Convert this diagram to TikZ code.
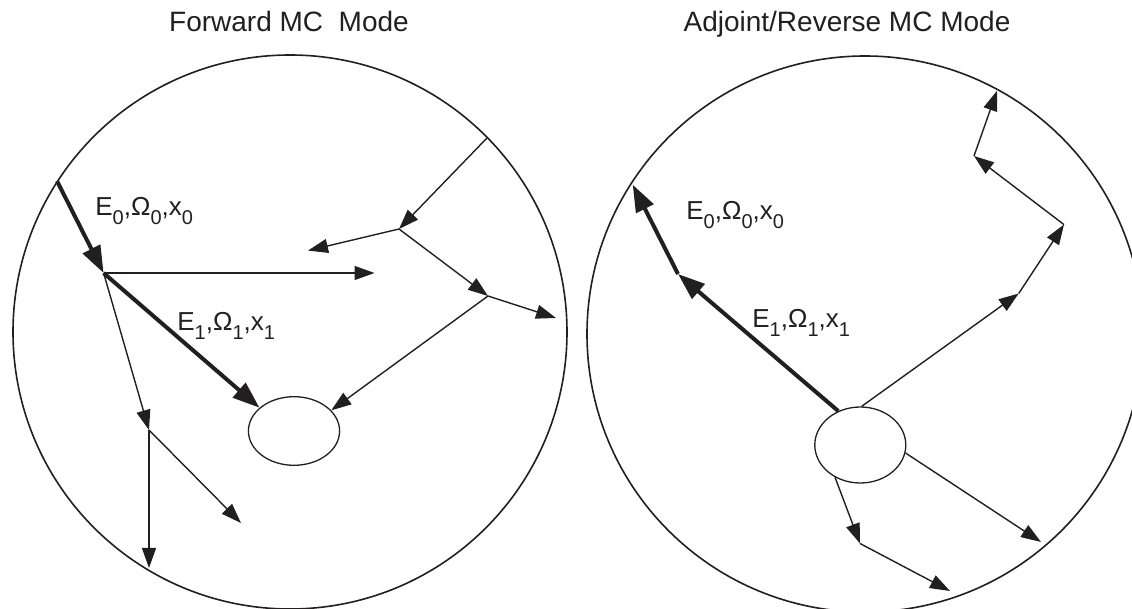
\documentclass[tikz,border=0pt]{standalone}
\usepackage{fontspec}
\setmainfont{Liberation Sans}
\usetikzlibrary{arrows.meta,shapes.geometric}
\definecolor{ink}{RGB}{35,31,32}
\newcommand\sbs[1]{\raisebox{-4.2pt}{\fontsize{10}{11}\selectfont #1}}
\newcommand\lblE[1]{E\sbs{#1},Ω\sbs{#1},x\sbs{#1}}
\begin{document}
\begin{tikzpicture}[x=0.5pt,y=-0.5pt,
  thinarrow/.style={draw=ink, line width=0.7pt, -{Triangle[length=10pt,width=7pt]}},
  thickarrow/.style={draw=ink, line width=2pt, -{Triangle[length=13.5pt,width=9.5pt]}},
  bigcircle/.style={draw=ink, line width=0.8pt},
  smallell/.style={draw=ink, line width=0.65pt, ellipse, inner sep=0pt},
  title/.style={anchor=base, font=\fontsize{14}{16}\selectfont, text=ink},
  lab/.style={anchor=base west, font=\fontsize{13}{15}\selectfont, text=ink, inner sep=0pt}]
\useasboundingbox (0,0) rectangle (1132,609);
\clip (0,0) rectangle (1132,609);
% titles
\node[title] (t1) at (289,32) {Forward MC\ \ Mode};
\node[title] (t2) at (847,32) {Adjoint/Reverse MC Mode};
% big circles
\draw[bigcircle] (290,332) circle[radius=277];
\draw[bigcircle] (865,334) circle[radius=278];
% small ellipses
\node[smallell, minimum width=45.6pt, minimum height=34.3pt] (le) at (294,431) {};
\node[smallell, minimum width=45.5pt, minimum height=38pt] (re) at (860.3,445) {};
% ---- left (forward) ----
\coordinate (l0) at (57,181);
\coordinate (lA) at (103.6,273);
\coordinate (lH) at (374.5,273);
\coordinate (lB) at (149,430);
\coordinate (lB1) at (241,523);
\coordinate (lB2) at (149,568);
\coordinate (lT) at (487,138);
\coordinate (lC) at (399,229);
\coordinate (lC1) at (308,250.6);
\coordinate (lD) at (488,296);
\coordinate (lD1) at (556,318);
\draw[thickarrow] (l0) -- (lA);
\draw[thickarrow] (lA) -- (le.146);
\draw[thinarrow] (lA) -- (lH);
\draw[thinarrow] (lA) -- (lB);
\draw[thinarrow] (lB) -- (lB1);
\draw[thinarrow] (lB) -- (lB2);
\draw[thinarrow] (lT) -- (lC);
\draw[thinarrow] (lC) -- (lC1);
\draw[thinarrow] (lC) -- (lD);
\draw[thinarrow] (lD) -- (lD1);
\draw[thinarrow] (lD) -- (le.29);
\node[lab] (le0) at (95,216) {\lblE{0}};
\node[lab] (le1) at (177,331) {\lblE{1}};
% ---- right (adjoint) ----
\coordinate (rF) at (678,274);
\coordinate (rF1) at (632.7,184.7);
\coordinate (rG) at (1018.7,293.5);
\coordinate (rH) at (1064,224.6);
\coordinate (rI) at (974,156);
\coordinate (rJ) at (997,90.8);
\coordinate (rK) at (1041,542);
\coordinate (rL) at (860,543.5);
\coordinate (rM) at (950,591);
\draw[thickarrow] (re.123) -- (rF);
\draw[thickarrow] (rF) -- (rF1);
\draw[thinarrow] (re.88) -- (rG);
\draw[thinarrow] (rG) -- (rH);
\draw[thinarrow] (rH) -- (rI);
\draw[thinarrow] (rI) -- (rJ);
\draw[thinarrow] (re.-10) -- (rK);
\draw[thinarrow] (re.-128) -- (rL);
\draw[thinarrow] (rL) -- (rM);
\node[lab] (re0) at (686,220) {\lblE{0}};
\node[lab] (re1) at (752,328) {\lblE{1}};
\end{tikzpicture}
\end{document}
